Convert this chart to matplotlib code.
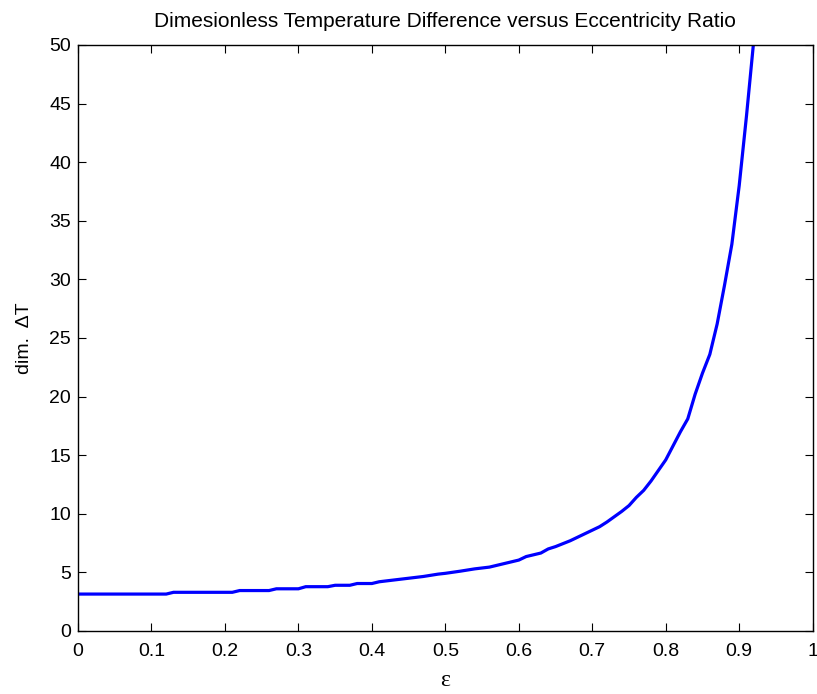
import matplotlib
matplotlib.use("Agg")
import matplotlib.pyplot as plt

# Eccentricity ratio and dimensionless temperature rise
eps = [0.00, 0.12, 0.13, 0.21, 0.22, 0.26, 0.27, 0.30, 0.31, 0.34, 0.35, 0.37,
       0.38, 0.40, 0.41, 0.43, 0.45, 0.47, 0.49, 0.50, 0.52, 0.54, 0.56, 0.58,
       0.60, 0.61, 0.63, 0.64, 0.65, 0.67, 0.69, 0.71, 0.72, 0.74, 0.75, 0.76,
       0.77, 0.78, 0.79, 0.80, 0.81, 0.82, 0.83, 0.84, 0.85, 0.86, 0.87, 0.88,
       0.89, 0.90, 0.91, 0.92]
dT = [3.15, 3.15, 3.3, 3.3, 3.45, 3.45, 3.6, 3.6, 3.78, 3.78, 3.9, 3.9,
      4.05, 4.05, 4.2, 4.35, 4.5, 4.65, 4.85, 4.92, 5.1, 5.3, 5.45, 5.75,
      6.05, 6.35, 6.65, 7.0, 7.2, 7.7, 8.3, 8.9, 9.3, 10.2, 10.7, 11.4,
      12.0, 12.8, 13.7, 14.6, 15.8, 17.0, 18.1, 20.2, 22.0, 23.6, 26.2, 29.5,
      33.0, 38.0, 44.0, 50.5]

xticks = [0, 0.1, 0.2, 0.3, 0.4, 0.5, 0.6, 0.7, 0.8, 0.9, 1]
xticklabels = ["0", "0.1", "0.2", "0.3", "0.4", "0.5", "0.6", "0.7", "0.8", "0.9", "1"]
yticks = [0, 5, 10, 15, 20, 25, 30, 35, 40, 45, 50]

plt.rcParams['font.family'] = ['Liberation Sans', 'DejaVu Sans']

fig = plt.figure(figsize=(8.17, 6.94), dpi=100)
ax = fig.add_axes([0.0955, 0.0908, 0.8992, 0.8444])

ax.plot(eps, dT, color=(0, 0, 1), linewidth=2.3, solid_joinstyle='miter')

ax.set_xlim(0, 1)
ax.set_ylim(0, 50)
ax.set_xticks(xticks)
ax.set_xticklabels(xticklabels)
ax.set_yticks(yticks)
ax.tick_params(direction='in', length=6, width=0.8, top=True, right=True,
               labelsize=14)
ax.tick_params(axis='x', pad=9)
ax.tick_params(axis='y', pad=5)
for s in ax.spines.values():
    s.set_linewidth(1.0)

ax.set_title("Dimesionless Temperature Difference versus Eccentricity Ratio",
             fontsize=15, pad=13)
ax.set_xlabel("ε", fontsize=17, family=['Liberation Serif', 'DejaVu Serif'],
              labelpad=7)
ax.set_ylabel("dim.  ΔT", fontsize=14, labelpad=12)

fig.savefig("out.png", dpi=100)
